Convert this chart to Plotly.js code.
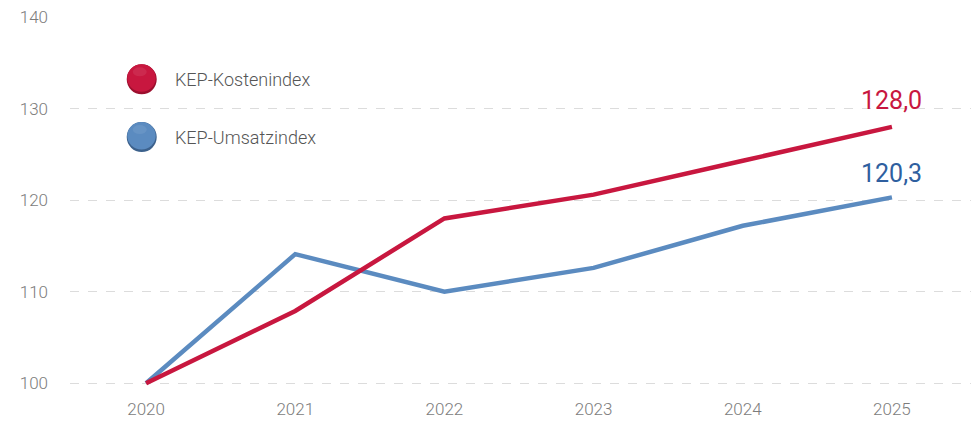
<!DOCTYPE html>
<html>
<head>
<meta charset="utf-8">
<script src="https://cdn.plot.ly/plotly-3.0.1.min.js"></script>
<style>html,body{margin:0;padding:0;background:#fff;}#chart{width:971px;height:422px;}</style>
</head>
<body>
<div id="chart"></div>
<script>
const years = [2020, 2021, 2022, 2023, 2024, 2025];
const kostenName = 'KEP-Kostenindex';
const umsatzName = 'KEP-Umsatzindex';
const kosten = [100, 107.9, 118.0, 120.6, 124.3, 128.0];
const umsatz = [100, 114.1, 110.0, 112.6, 117.2, 120.3];
const yTicks = [100, 110, 120, 130, 140];

const red = '#c8173f';
const blue = '#5b8bc0';
const redText = '#c8173f';
const blueText = '#2f5f9f';
const fontFam = 'Roboto, "DejaVu Sans", sans-serif';

function fmt(v){ return v.toFixed(1).replace('.', ','); }

const traces = [
  {x: years, y: umsatz, type: 'scatter', mode: 'lines', name: umsatzName,
   line: {color: blue, width: 4.5}, hoverinfo: 'skip'},
  {x: years, y: kosten, type: 'scatter', mode: 'lines', name: kostenName,
   line: {color: red, width: 4.5}, hoverinfo: 'skip'}
];

const tickFont = {size: 17, color: '#7c7c7c', family: fontFam, weight: 300};
const last = years.length - 1;
const layout = {
  width: 971, height: 422,
  margin: {l: 70, r: 0, t: 17, b: 25},
  paper_bgcolor: '#fff', plot_bgcolor: '#fff',
  showlegend: false,
  font: {family: fontFam, color: '#777', size: 15},
  xaxis: {
    range: [2019.49, 2025.53], tickvals: years, ticktext: years.map(String),
    showgrid: false, zeroline: false, showline: false, ticks: '',
    tickfont: tickFont, fixedrange: true
  },
  yaxis: {
    range: [98.5, 140], tickvals: yTicks, ticktext: yTicks.map(String),
    showgrid: true, gridcolor: '#dcdcdc', griddash: 'dash', gridwidth: 1,
    zeroline: false, showline: false, ticks: '', ticklabelstandoff: 21,
    tickfont: tickFont, fixedrange: true
  },
  shapes: [
    {type: 'circle', xref: 'paper', yref: 'paper', xsizemode: 'pixel', ysizemode: 'pixel',
     xanchor: 0.0796, yanchor: 0.836, x0: -15, x1: 15, y0: -15, y1: 15,
     fillcolor: '#9c0f2e', line: {width: 0}},
    {type: 'circle', xref: 'paper', yref: 'paper', xsizemode: 'pixel', ysizemode: 'pixel',
     xanchor: 0.0796, yanchor: 0.836, x0: -14.5, x1: 14, y0: -12.5, y1: 15,
     fillcolor: red, line: {width: 0}},
    {type: 'circle', xref: 'paper', yref: 'paper', xsizemode: 'pixel', ysizemode: 'pixel',
     xanchor: 0.0796, yanchor: 0.684, x0: -15, x1: 15, y0: -15, y1: 15,
     fillcolor: '#3c618c', line: {width: 0}},
    {type: 'circle', xref: 'paper', yref: 'paper', xsizemode: 'pixel', ysizemode: 'pixel',
     xanchor: 0.0796, yanchor: 0.684, x0: -14.5, x1: 14, y0: -12.5, y1: 15,
     fillcolor: blue, line: {width: 0}},
    {type: 'circle', xref: 'paper', yref: 'paper', xsizemode: 'pixel', ysizemode: 'pixel',
     xanchor: 0.0796, yanchor: 0.836, x0: -9, x1: 5, y0: 3, y1: 12,
     fillcolor: 'rgba(255,255,255,0.08)', line: {width: 0}},
    {type: 'circle', xref: 'paper', yref: 'paper', xsizemode: 'pixel', ysizemode: 'pixel',
     xanchor: 0.0796, yanchor: 0.684, x0: -9, x1: 5, y0: 3, y1: 12,
     fillcolor: 'rgba(255,255,255,0.08)', line: {width: 0}}
  ],
  annotations: [
    {xref: 'paper', yref: 'paper', x: 0.1141, y: 0.836, xanchor: 'left', yanchor: 'middle',
     text: kostenName, showarrow: false, font: {size: 18, color: '#555', family: fontFam, weight: 300}},
    {xref: 'paper', yref: 'paper', x: 0.1141, y: 0.684, xanchor: 'left', yanchor: 'middle',
     text: umsatzName, showarrow: false, font: {size: 18, color: '#555', family: fontFam, weight: 300}},
    {x: years[last], y: kosten[last], xref: 'x', yref: 'y', text: fmt(kosten[last]),
     showarrow: false, yshift: 26, font: {size: 25, color: redText, family: fontFam}},
    {x: years[last], y: umsatz[last], xref: 'x', yref: 'y', text: fmt(umsatz[last]),
     showarrow: false, yshift: 24, font: {size: 25, color: blueText, family: fontFam}}
  ]
};

Plotly.newPlot('chart', traces, layout, {displayModeBar: false, staticPlot: true});
</script>
</body>
</html>
